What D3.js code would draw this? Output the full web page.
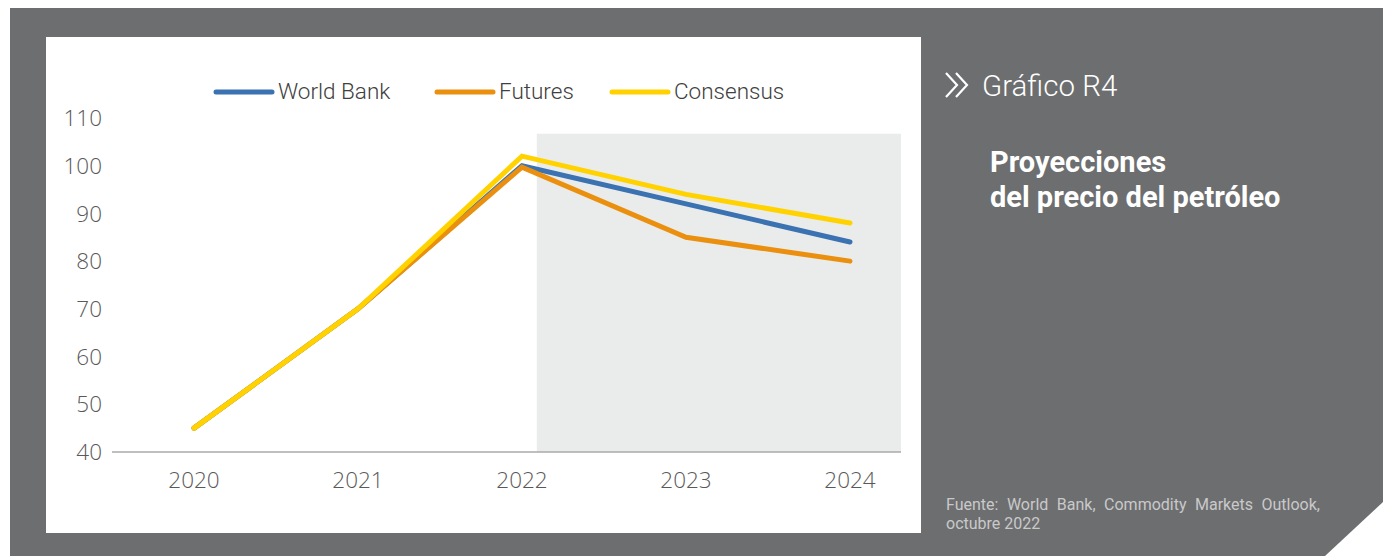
<!DOCTYPE html>
<html><head><meta charset="utf-8">
<script src="https://cdn.jsdelivr.net/npm/d3@7"></script>
<style>html,body{margin:0;padding:0;background:#fff;}svg{display:block;}</style>
</head><body>
<svg id="c" width="1383" height="556"></svg>
<script>
const years = ["2020","2021","2022","2023","2024"];
const worldBank = [45, 70, 100, 92, 84];
const futures = [45, 70, 99.7, 85, 80];
const consensus = [45, 70, 102, 94, 88];
const yTicks = [40, 50, 60, 70, 80, 90, 100, 110];
const seriesNames = ["World Bank", "Futures", "Consensus"];
const seriesColors = ["#3b72b2", "#ea900e", "#ffd200"];
const shadeStart = 2022.09, shadeTop = 106.7;

const svg = d3.select("#c");
svg.append("rect").attr("x",10).attr("y",8).attr("width",1373).attr("height",548).attr("fill","#6d6e70");
svg.append("polygon").attr("points","1325,556 1383,502 1383,556").attr("fill","#fff");
svg.append("rect").attr("x",46).attr("y",37).attr("width",875).attr("height",496).attr("fill","#fff");

const x = d3.scalePoint().domain(years).range([194, 850]);
const xLin = d3.scaleLinear().domain([2020, 2024]).range([194, 850]);
const y = d3.scaleLinear().domain([40, 110]).range([452, 118]);

svg.append("rect").attr("x", xLin(shadeStart)).attr("y", y(shadeTop))
  .attr("width", 901 - xLin(shadeStart)).attr("height", y(40) - y(shadeTop)).attr("fill", "#eaeceb");

svg.append("line").attr("x1",112).attr("x2",901).attr("y1",y(40)).attr("y2",y(40)).attr("stroke","#aaaaaa").attr("stroke-width",1.5);

const font = "'Open Sans', sans-serif";
svg.append("g").selectAll("text").data(yTicks).join("text")
  .attr("x",102).attr("y",d=>y(d)).attr("dy","0.36em").attr("text-anchor","end")
  .attr("font-family",font).attr("font-weight",300).attr("font-size",22.5).attr("fill","#595959").text(d=>d);
svg.append("g").selectAll("text").data(years).join("text")
  .attr("x",d=>x(d)).attr("y",488).attr("text-anchor","middle")
  .attr("font-family",font).attr("font-weight",300).attr("font-size",22.5).attr("fill","#595959").text(d=>d);

const all = [worldBank, futures, consensus];
const line = d3.line().x((d,i)=>x(years[i])).y(d=>y(d));
all.forEach((s,k)=>{
  svg.append("path").attr("d", line(s)).attr("fill","none").attr("stroke",seriesColors[k])
    .attr("stroke-width",5).attr("stroke-linecap","round").attr("stroke-linejoin","miter");
});

const legX = [214, 435, 610];
seriesNames.forEach((n,k)=>{
  svg.append("line").attr("x1",legX[k]+2).attr("x2",legX[k]+58).attr("y1",92).attr("y2",92)
    .attr("stroke",seriesColors[k]).attr("stroke-width",5).attr("stroke-linecap","round");
  svg.append("text").attr("x",legX[k]+64).attr("y",99).attr("font-family","Roboto, sans-serif")
    .attr("font-weight",300).attr("font-size",22.5).attr("fill","#404040").text(n);
});

svg.append("path").attr("d","M946,73 L957,85 L946,97 M956,73 L967,85 L956,97")
  .attr("fill","none").attr("stroke","#fff").attr("stroke-width",2.2);
svg.append("text").attr("x",982).attr("y",96).attr("font-family","Roboto, sans-serif").attr("font-weight",300)
  .attr("font-size",29.5).attr("fill","#fff").text("Gráfico R4");
svg.append("text").attr("x",990).attr("y",172).attr("font-family","Roboto, sans-serif").attr("font-weight",700)
  .attr("font-size",29).attr("fill","#fff").text("Proyecciones");
svg.append("text").attr("x",990).attr("y",207).attr("font-family","Roboto, sans-serif").attr("font-weight",700)
  .attr("font-size",29).attr("fill","#fff").text("del precio del petróleo");
const src1 = svg.append("text").attr("x",946).attr("y",510).attr("font-family","Roboto, sans-serif")
  .attr("font-size",16).attr("fill","#c9c9c9")
  .text("Fuente: World Bank, Commodity Markets Outlook,");
const w1 = src1.node().getComputedTextLength();
src1.attr("word-spacing", Math.max(0,(374 - w1)/5));
svg.append("text").attr("x",946).attr("y",529).attr("font-family","Roboto, sans-serif")
  .attr("font-size",16).attr("fill","#c9c9c9").text("octubre 2022");
</script>
</body></html>
